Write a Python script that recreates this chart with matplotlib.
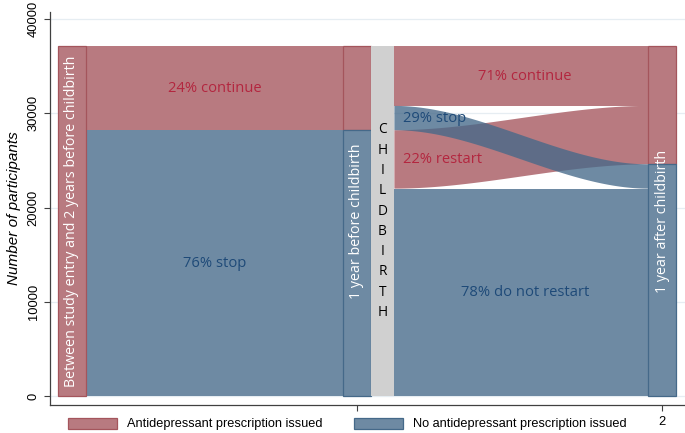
import numpy as np
import matplotlib
matplotlib.use("Agg")
import matplotlib.pyplot as plt
from matplotlib.patches import Patch, Rectangle

# ---------------- data ----------------
stage_labels = ["Between study entry and 2 years before childbirth",
                "1 year before childbirth",
                "1 year after childbirth"]
pre_counts = [8900, 28200]          # 1 year before: antidepressant, none
from_anti = [6320, 2580]            # continue, stop
from_none = [6200, 22000]           # restart, do not restart
flow1_labels = ["24% continue", "76% stop"]
flow2_labels = ["71% continue", "29% stop", "22% restart", "78% do not restart"]
legend_labels = ["Antidepressant prescription issued",
                 "No antidepressant prescription issued"]
yticks = [0, 10000, 20000, 30000, 40000]
xticks = [1, 2]
xtick_labels = ["1", "2"]
middle_word = "CHILDBIRTH"

# ---------------- style ----------------
A = 0.78
RED_FULL = (164/255, 85/255, 92/255)
BLUE_FULL = (69/255, 105/255, 137/255)
RED = tuple(A*c + (1-A) for c in RED_FULL)     # as seen over white
BLUE = tuple(A*c + (1-A) for c in BLUE_FULL)
RED_T = "#b3263f"
BLUE_T = "#1e4a78"
GRAY = "#d0d0d0"
PFONT = "Open Sans"
AFONT = "Liberation Sans"

fig = plt.figure(figsize=(6.85, 4.33), dpi=100)
ax = fig.add_axes([50/685, 1-404.5/433, 1-50/685, (404.5-12)/433])
ax.set_xlim(-0.005, 2.075)
ax.set_ylim(-902, 40743)

total = sum(pre_counts)
anti, none = pre_counts
cont, stop = from_anti
rest, notr = from_none

# node geometry (x)
n0 = (0.022, 0.112)
n1 = (0.955, 1.045)
gb = (1.045, 1.123)
n2 = (1.955, 2.045)

for y in yticks:
    ax.axhline(y, color="#e6edf2", lw=0.9, zorder=0)

def bar(x, y0, y1, col, edge, z=3):
    ax.add_patch(Rectangle((x[0], y0), x[1]-x[0], y1-y0, facecolor=col,
                           edgecolor=edge, lw=0.9, zorder=z))

def flow(xa, xb, la, lb, col, z=2):
    t = np.linspace(0, 1, 200)
    s = 3*t**2 - 2*t**3
    xs = xa + (xb-xa)*t
    lo = la[0] + (lb[0]-la[0])*s
    hi = la[1] + (lb[1]-la[1])*s
    ax.fill_between(xs, lo, hi, facecolor=col, edgecolor="none", lw=0, zorder=z)

# stage 0 -> 1 (straight)
flow(n0[1], n1[0], (none, total), (none, total), RED)
flow(n0[1], n1[0], (0, none), (0, none), BLUE)

# stage 1 -> 2 (curved)
L_cont = (total-cont, total)
L_stop = (total-cont-stop, total-cont)
L_rest = (notr, notr+rest)
L_notr = (0, notr)
R_cont = (total-cont, total)
R_rest = (total-cont-rest, total-cont)
R_stop = (notr, notr+stop)
R_notr = (0, notr)
flow(gb[1], n2[0], L_cont, R_cont, RED)
flow(gb[1], n2[0], L_rest, R_rest, RED)
flow(gb[1], n2[0], L_notr, R_notr, BLUE)
flow(gb[1], n2[0], L_stop, R_stop, (*BLUE_FULL, A), z=2.5)

# nodes
bar(n0, 0, total, RED, RED_FULL)
bar(n1, none, total, RED, RED_FULL)
bar(n1, 0, none, BLUE, BLUE_FULL)
bar(n2, notr+stop, total, RED, RED_FULL)
bar(n2, 0, notr+stop, BLUE, BLUE_FULL)
ax.add_patch(Rectangle((gb[0], 0), gb[1]-gb[0], total, facecolor=GRAY,
                       edgecolor="none", zorder=3))

# node labels
for x, lab in zip([n0, n1, n2], stage_labels):
    ax.text((x[0]+x[1])/2, total/2, lab, rotation=90, ha="center", va="center",
            color="white", fontsize=10.3, family=PFONT, zorder=5)
ax.text((gb[0]+gb[1])/2, total/2, "\n".join(middle_word), ha="center", va="center",
        color="black", fontsize=9.8, family=PFONT, linespacing=1.48, zorder=5)

# flow labels
xm1 = (n0[1]+n1[0])/2
ax.text(xm1, (none+total)/2, flow1_labels[0], ha="center", va="center",
        color=RED_T, fontsize=10.6, family=PFONT, zorder=5)
ax.text(xm1, none/2, flow1_labels[1], ha="center", va="center",
        color=BLUE_T, fontsize=10.6, family=PFONT, zorder=5)
xm2 = (gb[1]+n2[0])/2 + 0.012
xl2 = gb[1] + 0.029
ax.text(xm2, sum(L_cont)/2, flow2_labels[0], ha="center", va="center",
        color=RED_T, fontsize=10.6, family=PFONT, zorder=5)
ax.text(xl2, sum(L_stop)/2, flow2_labels[1], ha="left", va="center",
        color=BLUE_T, fontsize=10.6, family=PFONT, zorder=5)
ax.text(xl2, sum(L_rest)/2, flow2_labels[2], ha="left", va="center",
        color=RED_T, fontsize=10.6, family=PFONT, zorder=5)
ax.text(xm2, sum(L_notr)/2, flow2_labels[3], ha="center", va="center",
        color=BLUE_T, fontsize=10.6, family=PFONT, zorder=5)

# axes
for sp in ["top", "right"]:
    ax.spines[sp].set_visible(False)
for sp in ["left", "bottom"]:
    ax.spines[sp].set_color("#404040")
    ax.spines[sp].set_linewidth(0.9)
ax.set_yticks(yticks)
ax.set_yticklabels([str(v) for v in yticks], rotation=90, va="center",
                   family=AFONT, fontsize=9.3)
ax.set_xticks(xticks)
ax.set_xticklabels(xtick_labels, family=AFONT, fontsize=9.3)
ax.tick_params(axis="both", length=4.5, width=0.8, color="#404040", pad=3)
ax.tick_params(axis="x", pad=4)
ax.set_ylabel("Number of participants", fontstyle="italic", family=AFONT,
              fontsize=11, labelpad=5)

# legend
h_red = Patch(facecolor=RED, edgecolor=RED_FULL, lw=0.9)
h_blue = Patch(facecolor=BLUE, edgecolor=BLUE_FULL, lw=0.9)
for h, lab, xp in [(h_red, legend_labels[0], 68), (h_blue, legend_labels[1], 354)]:
    fig.legend(handles=[h], labels=[lab], loc="center left",
               bbox_to_anchor=(xp/685 - 0.004, 1-424/433), borderaxespad=0,
               borderpad=0.25, frameon=True, facecolor="white", edgecolor="none",
               framealpha=1, fancybox=False, handlelength=3.8, handleheight=0.95,
               handletextpad=0.8, prop={"family": AFONT, "size": 9.2})

fig.savefig("out.png", dpi=100)
